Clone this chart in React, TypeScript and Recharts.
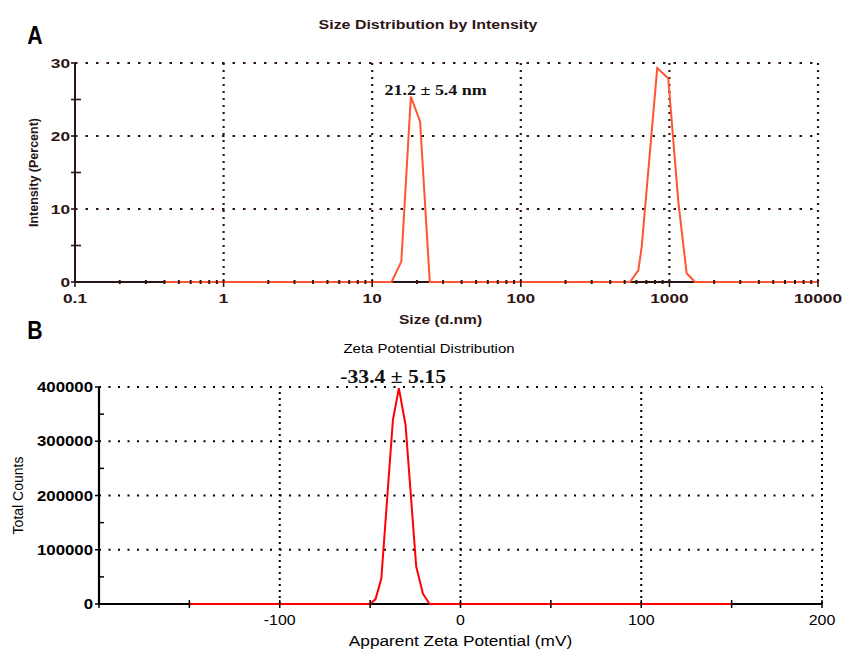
import React from 'react';
import { LineChart, Line, XAxis, YAxis, ReferenceLine, ReferenceDot, Label } from 'recharts';

// Panel A: size distribution by intensity (DLS)
const sizeNm = [0.4, 13.5, 15.7, 18.2, 21.0, 24.4, 543, 618, 651, 828, 982, 1148, 1306, 1487, 10000];
const intensityPct = [0, 0, 2.8, 25.4, 22.0, 0, 0, 1.6, 4.8, 29.3, 27.9, 11, 1.2, 0, 0];
const sizeMajorTicks = [0.1, 1, 10, 100, 1000, 10000];
const sizeTickLabels = ['0.1', '1', '10', '100', '1000', '10000'];
const intensityTicks = [0, 5, 10, 15, 20, 25, 30];
const intensityLabelled = [0, 10, 20, 30];

// Panel B: zeta potential distribution
const zetaMv = [-150, -50, -47, -43.8, -37.4, -34.1, -30.4, -24.5, -20.8, -17.1, 150];
const totalCounts = [0, 0, 9000, 47000, 339000, 398000, 330000, 69000, 19000, 0, 0];
const zetaTicks = [-200, -150, -100, -50, 0, 50, 100, 150, 200];
const zetaLabelled = [-100, 0, 100, 200];
const countTicks = [0, 50000, 100000, 150000, 200000, 250000, 300000, 350000, 400000];
const countLabelled = [0, 100000, 200000, 300000, 400000];

const sizeData = sizeNm.map((s, i) => ({ size: s, intensity: intensityPct[i] }));
const zetaData = zetaMv.map((z, i) => ({ zeta: z, counts: totalCounts[i] }));

// log axis: decade marks plus 2..9 minor marks
const sizeTicks: number[] = [];
sizeMajorTicks.forEach((d, i) => {
  sizeTicks.push(d);
  if (i < sizeMajorTicks.length - 1) {
    for (let k = 2; k <= 9; k++) sizeTicks.push(Number((k * d).toPrecision(6)));
  }
});

const SANS = '"Liberation Sans", Arial, sans-serif';
const SERIF = '"Liberation Serif", "Times New Roman", serif';
const INK_A = '#2e1414';
const LINE_A = '#ff5530';
const INK_B = '#000';
const LINE_B = '#ff0000';

const SText = ({ x, y, sx = 1, anchor = 'middle', size, bold = false, family = SANS, fill, rotate = 0, children }: any) => (
  <text
    transform={`translate(${x} ${y}) rotate(${rotate}) scale(${sx} 1)`}
    textAnchor={anchor}
    fontSize={size}
    fontWeight={bold ? 700 : 400}
    fontFamily={family}
    fill={fill}
  >
    {children}
  </text>
);

const SizeTick = ({ x, y, payload }: any) => {
  const idx = sizeMajorTicks.indexOf(payload.value);
  if (idx < 0) return <line x1={x} x2={x} y1={y - 2} y2={y + 2} stroke={INK_A} strokeWidth={2} />;
  return (
    <g>
      <line x1={x} x2={x} y1={y - 3} y2={y + 5} stroke={INK_A} strokeWidth={1.6} />
      <SText x={x} y={y + 21} sx={1.33} size={13} bold fill={INK_A}>{sizeTickLabels[idx]}</SText>
    </g>
  );
};

const IntensityTick = ({ x, y, payload }: any) => {
  if (!intensityLabelled.includes(payload.value)) {
    return <line x1={x - 4} x2={x + 6} y1={y} y2={y} stroke={INK_A} strokeWidth={1.6} />;
  }
  return (
    <g>
      <line x1={x - 4} x2={x} y1={y} y2={y} stroke={INK_A} strokeWidth={1.6} />
      <SText x={x - 5} y={y + 4.5} sx={1.33} anchor="end" size={13} bold fill={INK_A}>{payload.value}</SText>
    </g>
  );
};

const ZetaTick = ({ x, y, payload }: any) => (
  <g>
    <line x1={x} x2={x} y1={y - 4} y2={y + 4} stroke={INK_B} strokeWidth={1.5} />
    {zetaLabelled.includes(payload.value) && (
      <SText x={x} y={y + 21} sx={1.14} size={14} fill={INK_B}>{payload.value}</SText>
    )}
  </g>
);

const CountTick = ({ x, y, payload }: any) => {
  if (!countLabelled.includes(payload.value)) {
    return <line x1={x - 1} x2={x + 5} y1={y} y2={y} stroke={INK_B} strokeWidth={1.5} />;
  }
  return (
    <g>
      <line x1={x - 4} x2={x} y1={y} y2={y} stroke={INK_B} strokeWidth={1.5} />
      <SText x={x - 6} y={y + 5} sx={1.2} anchor="end" size={14} bold fill={INK_B}>{payload.value}</SText>
    </g>
  );
};

export default function App() {
  return (
    <div style={{ position: 'absolute', left: 0, top: 0, width: 843, height: 650, background: '#fff' }}>
      <div style={{ position: 'absolute', left: 0, top: 0 }}>
        <LineChart width={843} height={330} data={sizeData} margin={{ top: 63, right: 25, bottom: 0, left: 30 }}>
          {intensityLabelled.filter((v) => v > 0).map((v) => (
            <ReferenceLine key={`h${v}`} y={v} stroke={INK_A} strokeWidth={2.2} strokeDasharray="2.5 8" />
          ))}
          {sizeMajorTicks.filter((v) => v > 0.1).map((v) => (
            <ReferenceLine key={`v${v}`} x={v} stroke={INK_A} strokeWidth={2.2} strokeDasharray="2 5" />
          ))}
          <XAxis
            dataKey="size"
            type="number"
            scale="log"
            domain={[0.1, 10000]}
            allowDataOverflow
            ticks={sizeTicks}
            interval={0}
            tickSize={0}
            tickMargin={0}
            tickLine={false}
            tick={SizeTick}
            axisLine={{ stroke: INK_A, strokeWidth: 2 }}
            height={48}
          >
            <Label
              content={({ viewBox }: any) => (
                <SText x={viewBox.x + viewBox.width / 2 - 6} y={viewBox.y + 42} sx={1.3} size={12} bold fill={INK_A}>
                  Size (d.nm)
                </SText>
              )}
            />
          </XAxis>
          <YAxis
            type="number"
            domain={[0, 30]}
            ticks={intensityTicks}
            interval={0}
            tickSize={0}
            tickMargin={0}
            tickLine={false}
            tick={IntensityTick}
            axisLine={{ stroke: INK_A, strokeWidth: 2 }}
            width={45}
          >
            <Label
              content={({ viewBox }: any) => (
                <SText x={viewBox.x + 8} y={viewBox.y + viewBox.height / 2} rotate={-90} size={12.5} bold fill={INK_A}>
                  Intensity (Percent)
                </SText>
              )}
            />
          </YAxis>
          <Line
            type="linear"
            dataKey="intensity"
            stroke={LINE_A}
            strokeWidth={2}
            dot={false}
            isAnimationActive={false}
            {...({ zIndex: 700 } as any)}
          />
          <ReferenceDot
            x={21.2}
            y={25.4}
            r={0}
            fill="none"
            stroke="none"
            label={{
              content: ({ viewBox }: any) => (
                <SText x={viewBox.x + 15} y={viewBox.y - 2} sx={1.2} size={15} bold family={SERIF} fill="#111">
                  21.2 ± 5.4 nm
                </SText>
              ),
            }}
          />
        </LineChart>
      </div>

      <div style={{ position: 'absolute', left: 0, top: 330 }}>
        <LineChart width={843} height={320} data={zetaData} margin={{ top: 57, right: 21, bottom: 0, left: 40 }}>
          {countLabelled.filter((v) => v > 0).map((v) => (
            <ReferenceLine key={`h${v}`} y={v} stroke={INK_B} strokeWidth={2} strokeDasharray="2 7.5" />
          ))}
          {zetaLabelled.map((v) => (
            <ReferenceLine key={`v${v}`} x={v} stroke={INK_B} strokeWidth={2} strokeDasharray="2 4" />
          ))}
          <XAxis
            dataKey="zeta"
            type="number"
            domain={[-200, 200]}
            ticks={zetaTicks}
            interval={0}
            tickSize={0}
            tickMargin={0}
            tickLine={false}
            tick={ZetaTick}
            axisLine={{ stroke: INK_B, strokeWidth: 2.2 }}
            height={46}
          >
            <Label
              content={({ viewBox }: any) => (
                <SText x={viewBox.x + viewBox.width / 2} y={viewBox.y + 42} sx={1.15} size={15} fill={INK_B}>
                  Apparent Zeta Potential (mV)
                </SText>
              )}
            />
          </XAxis>
          <YAxis
            type="number"
            domain={[0, 400000]}
            ticks={countTicks}
            interval={0}
            tickSize={0}
            tickMargin={0}
            tickLine={false}
            tick={CountTick}
            axisLine={{ stroke: INK_B, strokeWidth: 2.2 }}
            width={59}
          >
            <Label
              content={({ viewBox }: any) => (
                <SText x={viewBox.x - 17} y={viewBox.y + viewBox.height / 2} rotate={-90} size={14} fill={INK_B}>
                  Total Counts
                </SText>
              )}
            />
          </YAxis>
          <Line
            type="linear"
            dataKey="counts"
            stroke={LINE_B}
            strokeWidth={2}
            dot={false}
            isAnimationActive={false}
            {...({ zIndex: 700 } as any)}
          />
          <ReferenceDot
            x={-33.4}
            y={398000}
            r={0}
            fill="none"
            stroke="none"
            label={{
              content: ({ viewBox }: any) => (
                <SText x={viewBox.x - 7} y={viewBox.y - 5} sx={1.14} size={19} bold family={SERIF} fill="#111">
                  -33.4 ± 5.15
                </SText>
              ),
            }}
          />
        </LineChart>
      </div>

      <svg width={843} height={650} style={{ position: 'absolute', left: 0, top: 0, pointerEvents: 'none' }}>
        <SText x={35} y={44} sx={0.85} size={25} bold fill="#000">A</SText>
        <SText x={428} y={29} sx={1.33} size={12} bold fill={INK_A}>Size Distribution by Intensity</SText>
        <SText x={35} y={339} sx={0.85} size={25} bold fill="#000">B</SText>
        <SText x={429} y={353} sx={1.15} size={13} fill={INK_B}>Zeta Potential Distribution</SText>
      </svg>
    </div>
  );
}
